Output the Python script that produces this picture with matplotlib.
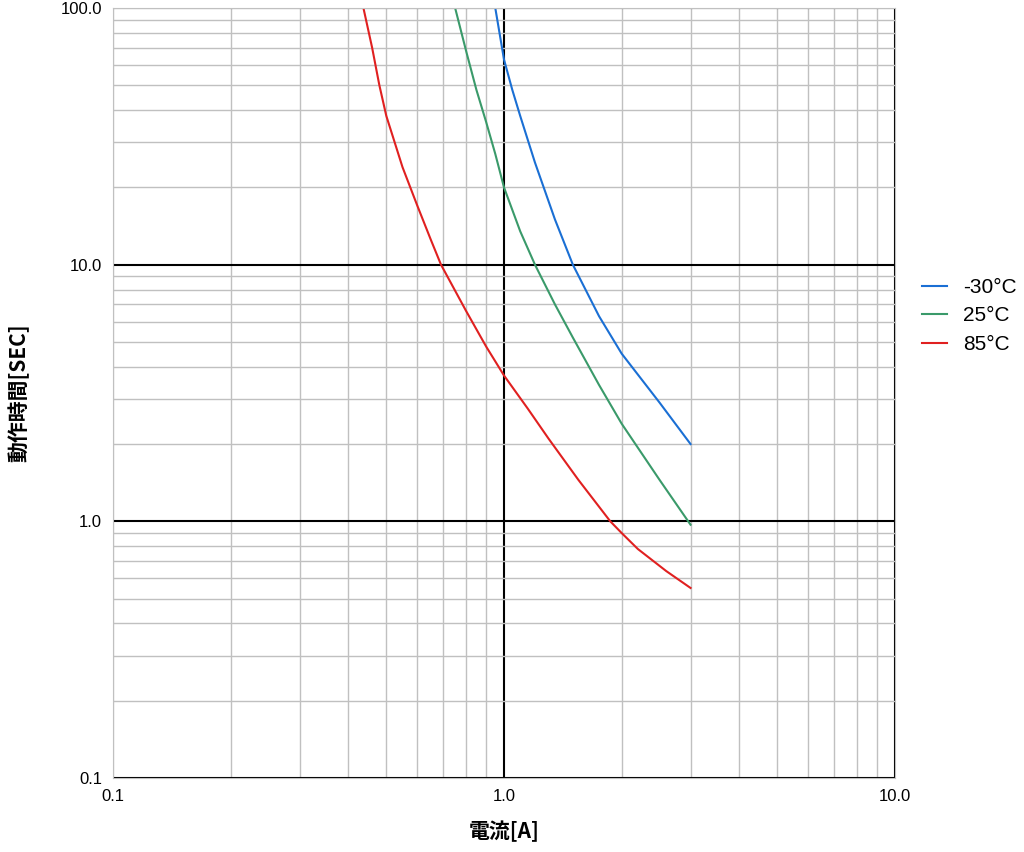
import matplotlib
matplotlib.use("Agg")
import matplotlib.pyplot as plt
from matplotlib.ticker import FixedLocator, FixedFormatter, LogLocator, NullFormatter

plt.rcParams['font.family'] = ['Liberation Sans', 'Noto Sans CJK JP', 'DejaVu Sans']

blue_x = [0.95, 1.0, 1.05, 1.1, 1.2, 1.35, 1.5, 1.75, 2.0, 2.5, 3.0]
blue_y = [100, 63, 48, 38, 25, 15, 10, 6.3, 4.5, 2.9, 2.0]
green_x = [0.75, 0.8, 0.85, 0.9, 0.95, 1.0, 1.1, 1.2, 1.35, 1.5, 1.75, 2.0, 2.5, 3.0]
green_y = [100, 68, 48, 36, 27, 20, 13.5, 10, 7.0, 5.2, 3.4, 2.4, 1.45, 0.97]
red_x = [0.437, 0.46, 0.48, 0.5, 0.55, 0.6, 0.65, 0.69, 0.8, 0.9, 1.0, 1.15, 1.3, 1.55, 1.87, 2.0, 2.2, 2.6, 3.0]
red_y = [100, 70, 50, 38, 24, 17, 12.5, 10, 6.6, 4.8, 3.7, 2.75, 2.1, 1.45, 1.0, 0.9, 0.78, 0.64, 0.55]

fig = plt.figure(figsize=(10.24, 8.52), dpi=100)
ax = fig.add_axes([113/1024, 1-778/852, (895-113)/1024, (778-8)/852])
ax.set_xscale('log'); ax.set_yscale('log')
ax.set_xlim(0.1, 10); ax.set_ylim(0.1, 100)

ax.xaxis.set_minor_locator(LogLocator(subs=range(2, 10)))
ax.yaxis.set_minor_locator(LogLocator(subs=range(2, 10)))
ax.xaxis.set_minor_formatter(NullFormatter()); ax.yaxis.set_minor_formatter(NullFormatter())
ax.xaxis.set_major_locator(FixedLocator([0.1, 1, 10]))
ax.xaxis.set_major_formatter(FixedFormatter(['0.1', '1.0', '10.0']))
ax.yaxis.set_major_locator(FixedLocator([0.1, 1, 10, 100]))
ax.yaxis.set_major_formatter(FixedFormatter(['0.1', '1.0', '10.0', '100.0']))
ax.grid(True, which='minor', color='#c0c0c0', lw=1)
ax.grid(True, which='major', color='black', lw=1.5)
ax.tick_params(which='both', length=0, labelsize=12, pad=8)
for s in ax.spines.values():
    s.set_color('#c0c0c0')

ax.plot(blue_x, blue_y, color='#1a6fd4', lw=1.5, label='-30°C')
ax.plot(green_x, green_y, color='#3a9a6a', lw=1.5, label='25°C')
ax.plot(red_x, red_y, color='#e02020', lw=1.5, label='85°C')

ax.set_xlabel('電流[A]', fontsize=15, fontweight='bold', labelpad=12,
              family=['Noto Sans CJK JP', 'DejaVu Sans'])
ax.set_ylabel('動作時間[SEC]', fontsize=15, fontweight='bold', labelpad=22,
              family=['Noto Sans CJK JP', 'DejaVu Sans'])
ax.legend(loc='center left', bbox_to_anchor=(1.01, 0.6), frameon=False, fontsize=15,
          handlelength=1.2, labelspacing=0.45)

fig.savefig('out.png', dpi=100)
